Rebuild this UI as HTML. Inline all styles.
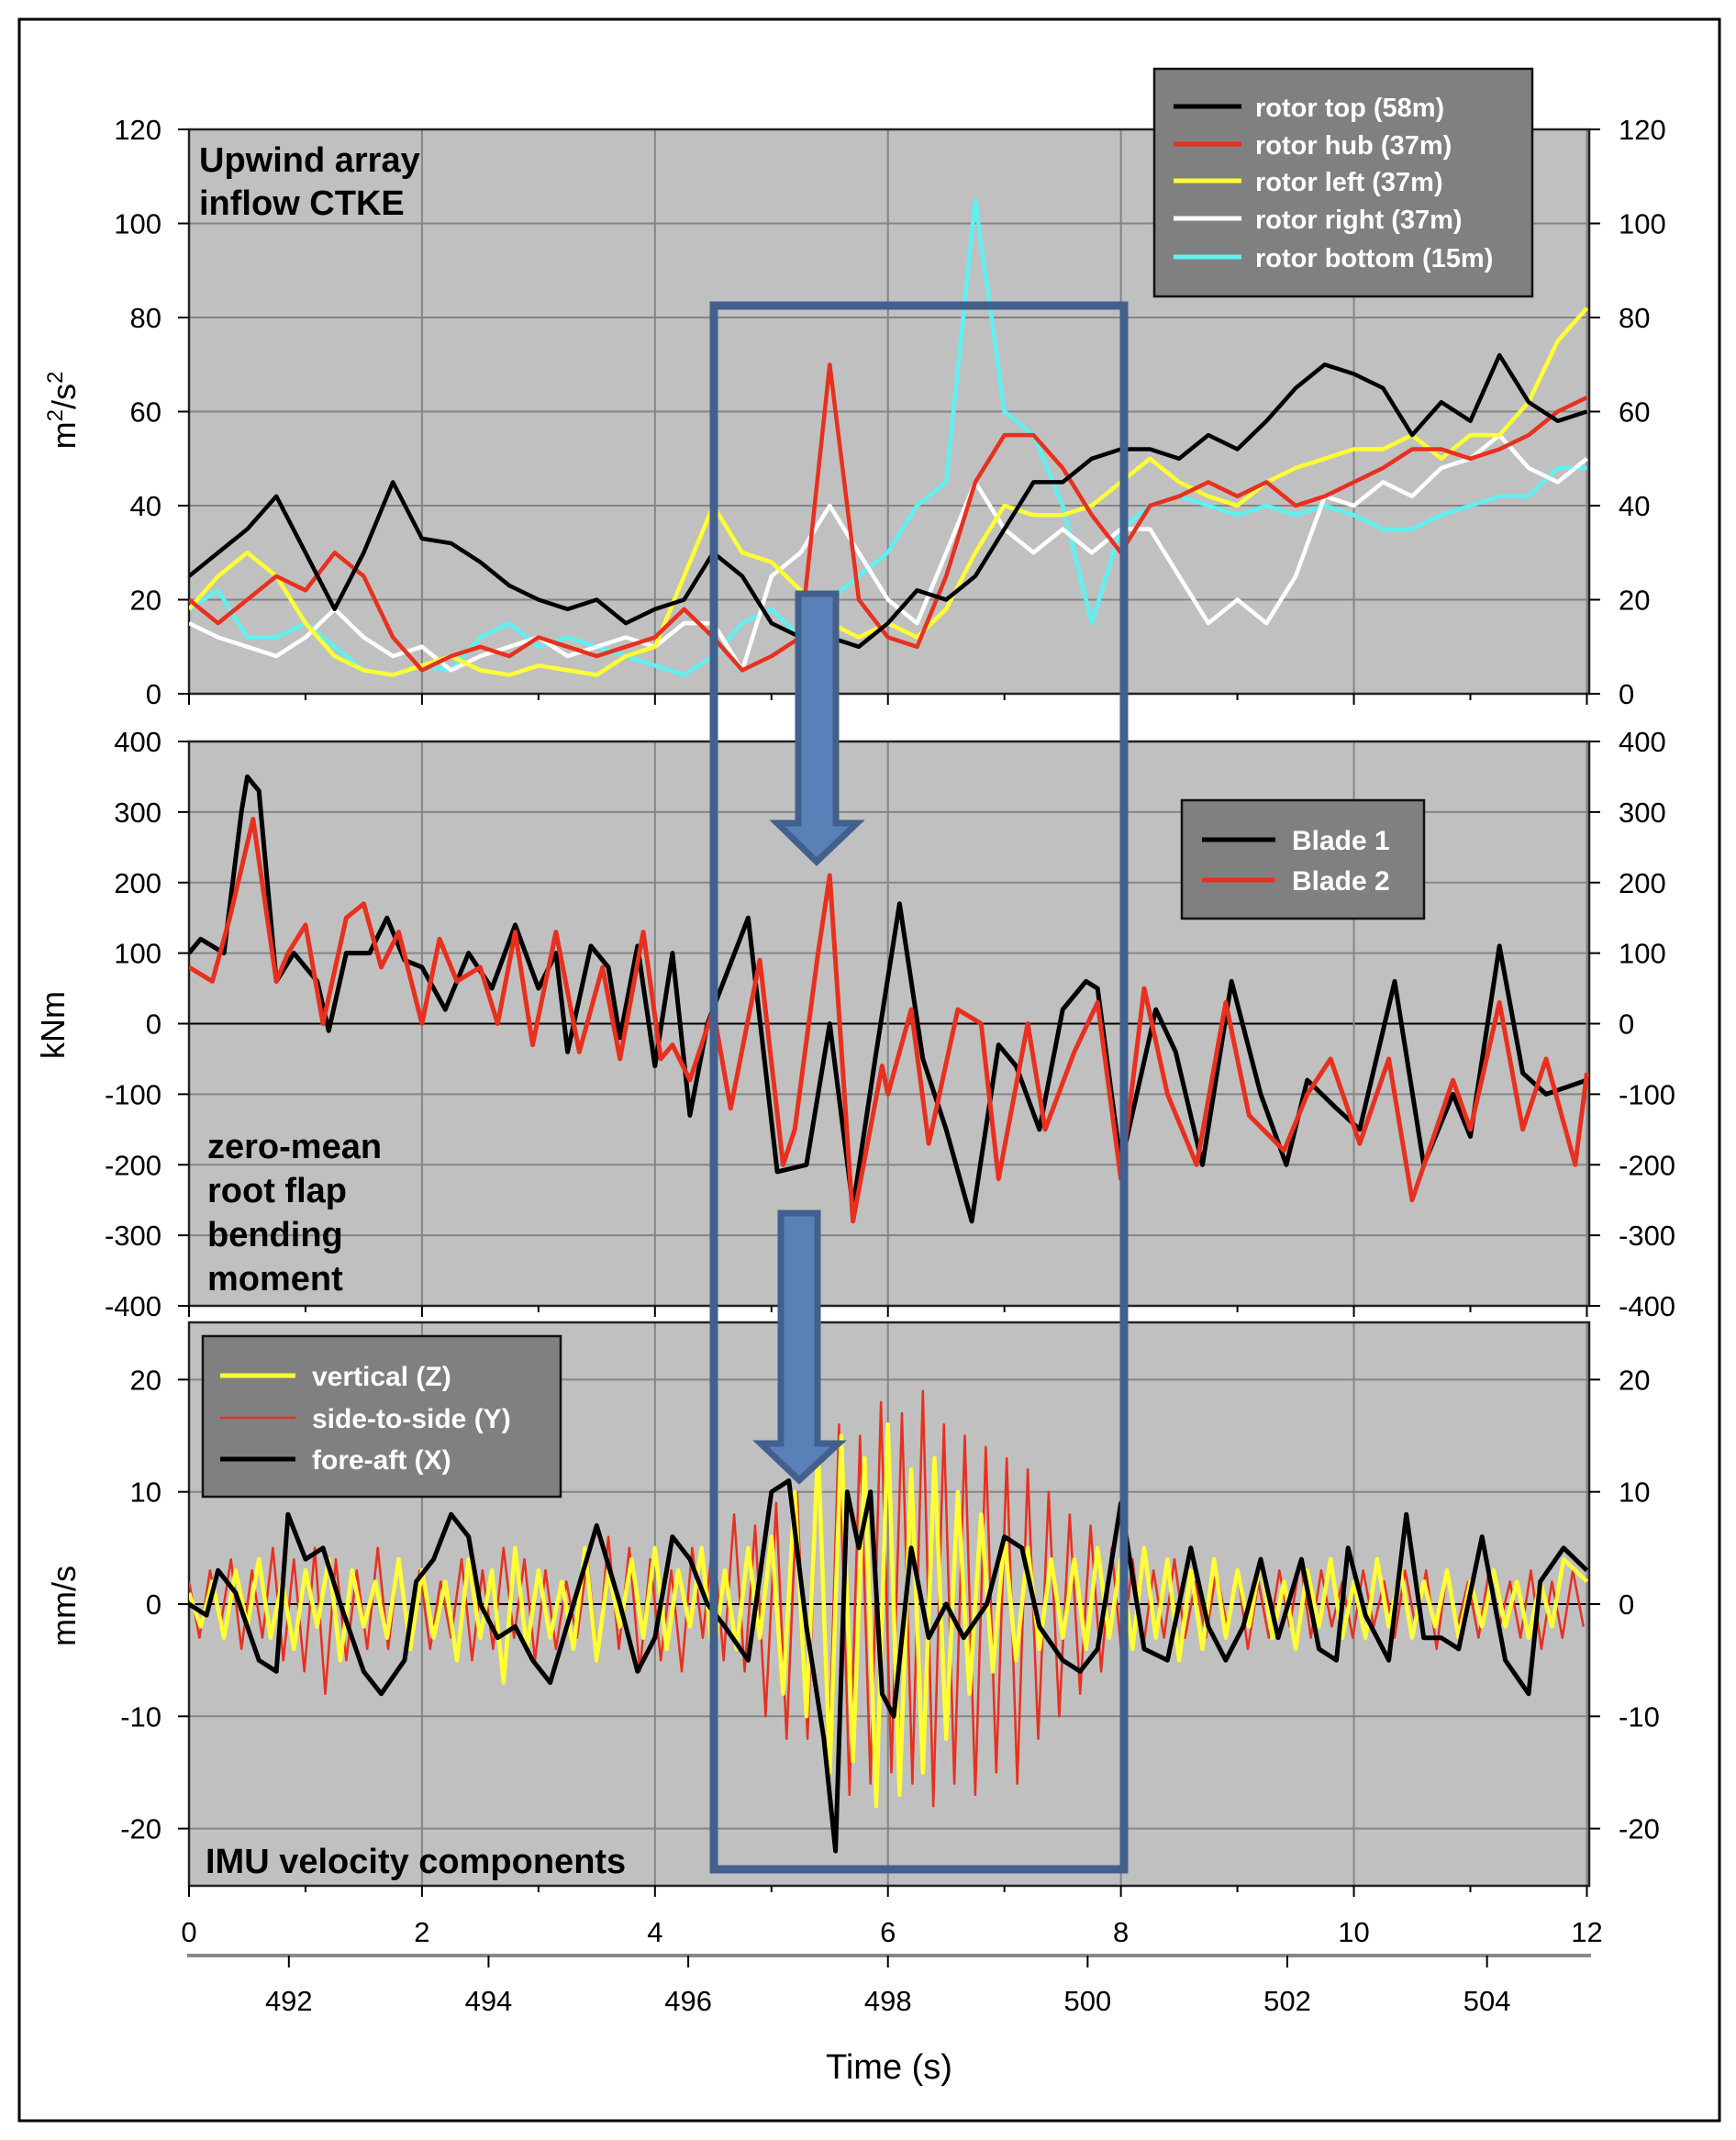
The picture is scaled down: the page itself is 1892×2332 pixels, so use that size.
<!DOCTYPE html>
<html><head><meta charset="utf-8">
<style>
html,body{margin:0;padding:0;background:#fff;}
svg{display:block;}
text{font-family:"Liberation Sans Narrow","Liberation Sans",sans-serif;}
</style></head>
<body>
<svg id="chart" width="1892" height="2332" viewBox="0 0 1892 2332" xmlns="http://www.w3.org/2000/svg">
<rect x="21" y="21" width="1853" height="2290" fill="#fff" stroke="#000" stroke-width="3"/>
<g id="layer"></g>
</svg>
<script>
// ---------- DATA ----------
const ctkeTime = [0,0.25,0.5,0.75,1,1.25,1.5,1.75,2,2.25,2.5,2.75,3,3.25,3.5,3.75,4,4.25,4.5,4.75,5,5.25,5.5,5.75,6,6.25,6.5,6.75,7,7.25,7.5,7.75,8,8.25,8.5,8.75,9,9.25,9.5,9.75,10,10.25,10.5,10.75,11,11.25,11.5,11.75,12];
const rotorTop   = [25,30,35,42,30,18,30,45,33,32,28,23,20,18,20,15,18,20,30,25,15,12,12,10,15,22,20,25,35,45,45,50,52,52,50,55,52,58,65,70,68,65,55,62,58,72,62,58,60];
const rotorHub   = [20,15,20,25,22,30,25,12,5,8,10,8,12,10,8,10,12,18,12,5,8,12,70,20,12,10,25,45,55,55,48,38,30,40,42,45,42,45,40,42,45,48,52,52,50,52,55,60,63];
const rotorLeft  = [18,25,30,25,15,8,5,4,6,8,5,4,6,5,4,8,10,25,40,30,28,22,15,12,15,12,18,30,40,38,38,40,45,50,45,42,40,45,48,50,52,52,55,50,55,55,62,75,82];
const rotorRight = [15,12,10,8,12,18,12,8,10,5,8,10,12,8,10,12,10,15,15,5,25,30,40,30,20,15,30,45,35,30,35,30,35,35,25,15,20,15,25,42,40,45,42,48,50,55,48,45,50];
const rotorBottom= [18,22,12,12,15,10,5,4,6,5,12,15,10,12,10,8,6,4,8,15,18,12,20,25,30,40,45,105,60,55,40,15,35,40,42,40,38,40,38,40,38,35,35,38,40,42,42,48,48];
const ctkeTicks = [0,20,40,60,80,100,120];

const blade1Time = [0,0.1,0.3,0.45,0.5,0.6,0.75,0.9,1.1,1.2,1.35,1.55,1.7,1.85,2.0,2.2,2.4,2.6,2.8,3.0,3.15,3.25,3.45,3.6,3.7,3.85,4.0,4.15,4.3,4.45,4.8,5.05,5.3,5.5,5.7,5.9,6.1,6.3,6.5,6.72,6.95,7.1,7.3,7.5,7.7,7.8,8.0,8.3,8.47,8.7,8.95,9.2,9.42,9.6,9.85,10.05,10.35,10.6,10.85,11.0,11.25,11.45,11.65,12];
const blade1 =     [100,120,100,300,350,330,60,100,60,-10,100,100,150,90,80,20,100,50,140,50,100,-40,110,80,-20,110,-60,100,-130,0,150,-210,-200,0,-260,-40,170,-50,-150,-280,-30,-60,-150,20,60,50,-200,20,-40,-200,60,-100,-200,-80,-120,-150,60,-200,-100,-160,110,-70,-100,-80];
const blade2Time = [0,0.2,0.35,0.55,0.75,0.85,1.0,1.15,1.35,1.5,1.65,1.8,2.0,2.15,2.3,2.5,2.65,2.8,2.95,3.15,3.35,3.55,3.7,3.9,4.05,4.15,4.3,4.5,4.65,4.9,5.1,5.2,5.4,5.5,5.7,5.95,6.0,6.2,6.35,6.6,6.8,6.95,7.2,7.35,7.6,7.8,8.0,8.2,8.4,8.65,8.9,9.1,9.4,9.6,9.8,10.05,10.3,10.5,10.85,11.0,11.25,11.45,11.65,11.9,12];
const blade2 =     [80,60,150,290,60,100,140,0,150,170,80,130,0,120,60,80,0,130,-30,130,-40,80,-50,130,-50,-30,-80,20,-120,90,-200,-150,100,210,-280,-60,-100,20,-170,20,0,-220,0,-150,-40,30,-220,50,-100,-200,30,-130,-180,-100,-50,-170,-50,-250,-80,-150,30,-150,-50,-200,-70];
const momentTicks = [-400,-300,-200,-100,0,100,200,300,400];

const sideStep = 0.09;
const sideToSide = [2,-3,3,-2,4,-4,3,-3,5,-5,4,-6,5,-8,4,-5,3,-4,5,-4,4,-3,3,-4,2,-3,4,-5,3,-4,5,-3,4,-5,3,-4,2,-3,4,-5,6,-4,5,-6,4,-5,3,-6,5,-3,
 6,-5,8,-6,7,-10,9,-12,10,-12,14,
 -15,16,-17,15,-16,18,-15,17,-16,19,-18,16,-16,15,-17,14,-15,
 13,-16,12,-12,10,-10,8,-8,7,-6,5,
 -5,4,-4,3,-3,4,-3,2,-3,3,-2,3,-4,2,-3,3,-2,4,-3,3,-2,2,-3,3,-2,2,-3,3,-2,3,-4,3,-2,2,-3,3,-2,2,-3,3,-4,2,-3,3,-2];
const vertStep = 0.1;
const vertical = [1,-2,2,-3,3,-2,4,-3,2,-4,3,-2,4,-5,3,-2,2,-3,4,-4,3,-3,2,-5,4,-3,3,-7,5,-4,3,-3,2,-4,5,-5,3,-2,4,-3,5,-4,3,-2,5,
 -5,3,-4,5,-3,6,-8,10,-10,14,
 -15,15,-14,13,-18,16,-17,12,-15,13,-12,10,-8,8,-6,6,
 -5,5,-4,4,-3,4,-4,5,-3,4,
 -4,5,-3,4,-5,3,-4,4,-3,3,-2,4,-3,2,-4,3,-2,4,-3,2,-3,4,-2,3,-3,2,-2,3,-3,2,-2,3,-2,2,-3,2,-2,4,3,2];
const foreAftTime = [0,0.15,0.25,0.4,0.6,0.75,0.85,1.0,1.15,1.3,1.5,1.65,1.85,1.95,2.1,2.25,2.4,2.5,2.65,2.8,2.95,3.1,3.3,3.5,3.7,3.85,4.0,4.15,4.3,4.45,4.6,4.8,5.0,5.15,5.3,5.45,5.55,5.65,5.75,5.85,5.95,6.05,6.2,6.35,6.5,6.65,6.85,7.0,7.15,7.3,7.5,7.65,7.8,8.0,8.2,8.4,8.6,8.75,8.9,9.05,9.2,9.35,9.55,9.7,9.85,9.95,10.1,10.3,10.45,10.6,10.75,10.9,11.1,11.3,11.5,11.6,11.8,12];
const foreAft =     [0,-1,3,1,-5,-6,8,4,5,0,-6,-8,-5,2,4,8,6,0,-3,-2,-5,-7,0,7,0,-6,-3,6,4,0,-2,-5,10,11,-2,-12,-22,10,5,10,-8,-10,5,-3,0,-3,0,6,5,-2,-5,-6,-4,9,-4,-5,5,-2,-5,-2,4,-3,4,-4,-5,5,-1,-5,8,-3,-3,-4,6,-5,-8,2,5,3];
const imuTicks = [-20,-10,0,10,20];

const timeTicks = [0,2,4,6,8,10,12];
const absTicks = [492,494,496,498,500,502,504];

// ---------- GEOMETRY ----------
const X0=206, X1=1732, TMAX=12.02;
const X = t => X0 + t/TMAX*(X1-X0);
const XA = s => X(0) + (s-491)/14*(X(12)-X(0));
const panels = {
  ctke:{top:141,bot:756,min:0,max:120},
  moment:{top:808,bot:1423,min:-400,max:400},
  imu:{top:1441,bot:2055,min:-25.1,max:25.1}
};
const Y = (p,v) => p.bot - (v-p.min)/(p.max-p.min)*(p.bot-p.top);
const NS='http://www.w3.org/2000/svg';
const layer=document.getElementById('layer');
function mk(tag,attrs,parent){const e=document.createElementNS(NS,tag);for(const k in attrs)e.setAttribute(k,attrs[k]);(parent||layer).appendChild(e);return e;}

function panel(p,ticks,name,gridTicks){
  const g=mk('g',{});
  
  
  const bg=mk('rect',{x:X0,y:p.top,width:X1-X0,height:p.bot-p.top,fill:'#c0c0c0'},g);
  
  
  (gridTicks||ticks).forEach(v=>{const y=Y(p,v);
    const l=mk('line',{x1:X0,x2:X1,y1:y,y2:y,stroke:(v===0&&name!=='ctke')?'#000':'#858585','stroke-width':2},g);
    
    });
  timeTicks.forEach(t=>{const x=X(t);
    const l=mk('line',{x1:x,x2:x,y1:p.top,y2:p.bot,stroke:'#858585','stroke-width':2},g);
    
    });
  mk('rect',{x:X0,y:p.top,width:X1-X0,height:p.bot-p.top,fill:'none',stroke:'#222','stroke-width':2.5},g);
  ticks.forEach(v=>{const y=Y(p,v);
    mk('line',{x1:X0-12,x2:X0,y1:y,y2:y,stroke:'#000','stroke-width':2},g);
    mk('line',{x1:X1,x2:X1+12,y1:y,y2:y,stroke:'#000','stroke-width':2},g);
    const tl=mk('text',{x:X0-30,y:y+11,'font-size':31,'text-anchor':'end',fill:'#000'},g);tl.textContent=v;
    
    
    const tr=mk('text',{x:X1+32,y:y+11,'font-size':31,'text-anchor':'start',fill:'#000'},g);tr.textContent=v;
    
    });
  for(let t=0;t<=12;t++){const x=X(t);
    mk('line',{x1:x,x2:x,y1:p.bot,y2:p.bot+(t%2?7:12),stroke:'#000','stroke-width':2},g);}
}
function series(p,ts,vs,color,w,name){
  const pts=vs.map((v,i)=>X(ts[i]).toFixed(1)+','+Y(p,v).toFixed(1)).join(' ');
  const l=mk('polyline',{points:pts,fill:'none',stroke:color,'stroke-width':w,'stroke-linejoin':'round'});
  
  
  return l;
}
const stepTimes=(arr,dt)=>arr.map((_,i)=>i*dt);

panel(panels.ctke,ctkeTicks,'ctke');
panel(panels.moment,momentTicks,'moment');
panel(panels.imu,imuTicks,'imu',[-20,-10,0,10,20]);

['ctke','moment','imu'].forEach(n=>{const p=panels[n];
  const cp=mk('clipPath',{id:'clip-'+n});mk('rect',{x:X0,y:p.top,width:X1-X0,height:p.bot-p.top},cp);});
function clipped(n,el){el.setAttribute('clip-path','url(#clip-'+n+')');}

clipped('ctke',series(panels.ctke,ctkeTime,rotorBottom,'#5ef1f1',4.5,'series-rotor-bottom'));
clipped('ctke',series(panels.ctke,ctkeTime,rotorRight,'#ffffff',4.5,'series-rotor-right'));
clipped('ctke',series(panels.ctke,ctkeTime,rotorLeft,'#ffff33',4.5,'series-rotor-left'));
clipped('ctke',series(panels.ctke,ctkeTime,rotorHub,'#e8301e',4.5,'series-rotor-hub'));
clipped('ctke',series(panels.ctke,ctkeTime,rotorTop,'#000000',4.5,'series-rotor-top'));

clipped('moment',series(panels.moment,blade1Time,blade1,'#000',5,'series-blade-1'));
clipped('moment',series(panels.moment,blade2Time,blade2,'#e8301e',5,'series-blade-2'));

clipped('imu',series(panels.imu,stepTimes(sideToSide,sideStep),sideToSide,'#e8301e',2.5,'series-side-to-side'));
clipped('imu',series(panels.imu,stepTimes(vertical,vertStep),vertical,'#ffff33',4.5,'series-vertical'));
clipped('imu',series(panels.imu,foreAftTime,foreAft,'#000',5,'series-fore-aft'));

timeTicks.forEach(t=>{const tx=mk('text',{x:X(t),y:2116,'font-size':31,'text-anchor':'middle'});tx.textContent=t;
  
  });
const ax2=mk('line',{x1:X0-2,x2:X1+2,y1:2131,y2:2131,stroke:'#888','stroke-width':4});


absTicks.forEach(s=>{const x=XA(s);
  mk('line',{x1:x,x2:x,y1:2131,y2:2144,stroke:'#000','stroke-width':2});
  const tx=mk('text',{x:x,y:2191,'font-size':31,'text-anchor':'middle'});tx.textContent=s;
  
  });
</script>
<script>
const L=document.getElementById('chart');
function add(html){L.insertAdjacentHTML('beforeend',html);}
add(`
<text x="969" y="2265" font-size="38" text-anchor="middle" style="font-family:'Liberation Sans',sans-serif">Time (s)</text>
<text transform="translate(82,447) rotate(-90)" font-size="36" text-anchor="middle" style="font-family:'Liberation Sans',sans-serif">m<tspan dy="-14" font-size="24">2</tspan><tspan dy="14">/s</tspan><tspan dy="-14" font-size="24">2</tspan></text>
<text transform="translate(70,1117) rotate(-90)" font-size="36" text-anchor="middle" style="font-family:'Liberation Sans',sans-serif">kNm</text>
<text transform="translate(82,1750) rotate(-90)" font-size="36" text-anchor="middle" style="font-family:'Liberation Sans',sans-serif">mm/s</text>
<g font-weight="bold" font-size="38" style="font-family:'Liberation Sans',sans-serif">
<text x="217" y="187">Upwind array</text>
<text x="217" y="234">inflow CTKE</text>
<text x="226" y="1262">zero-mean</text>
<text x="226" y="1310">root flap</text>
<text x="226" y="1358">bending</text>
<text x="226" y="1406">moment</text>
<text x="224" y="2041">IMU velocity components</text>
</g>
<g font-weight="bold" font-size="29" fill="#fff" style="font-family:'Liberation Sans',sans-serif">
<rect x="1258" y="75" width="412" height="248" fill="#808080" stroke="#111" stroke-width="2.5"/>
<line x1="1279" x2="1353" y1="116" y2="116" stroke="#000" stroke-width="5"/><text x="1368" y="127">rotor top (58m)</text>
<line x1="1279" x2="1353" y1="157" y2="157" stroke="#e8301e" stroke-width="5"/><text x="1368" y="168">rotor hub (37m)</text>
<line x1="1279" x2="1353" y1="197" y2="197" stroke="#ffff33" stroke-width="5"/><text x="1368" y="208">rotor left (37m)</text>
<line x1="1279" x2="1353" y1="238" y2="238" stroke="#fff" stroke-width="5"/><text x="1368" y="249">rotor right (37m)</text>
<line x1="1279" x2="1353" y1="280" y2="280" stroke="#5ef1f1" stroke-width="5"/><text x="1368" y="291">rotor bottom (15m)</text>
</g>
<g font-weight="bold" font-size="30" fill="#fff" style="font-family:'Liberation Sans',sans-serif">
<rect x="1288" y="872" width="264" height="129" fill="#808080" stroke="#111" stroke-width="2.5"/>
<line x1="1310" x2="1390" y1="915" y2="915" stroke="#000" stroke-width="5"/><text x="1408" y="926">Blade 1</text>
<line x1="1310" x2="1390" y1="959" y2="959" stroke="#e8301e" stroke-width="5"/><text x="1408" y="970">Blade 2</text>
</g>
<g font-weight="bold" font-size="30" fill="#fff" style="font-family:'Liberation Sans',sans-serif">
<rect x="221" y="1456" width="390" height="175" fill="#808080" stroke="#111" stroke-width="2.5"/>
<line x1="240" x2="322" y1="1499" y2="1499" stroke="#ffff33" stroke-width="5"/><text x="340" y="1510">vertical (Z)</text>
<line x1="240" x2="322" y1="1545" y2="1545" stroke="#e8301e" stroke-width="2.5"/><text x="340" y="1556">side-to-side (Y)</text>
<line x1="240" x2="322" y1="1590" y2="1590" stroke="#000" stroke-width="5"/><text x="340" y="1601">fore-aft (X)</text>
</g>
<rect x="778" y="333" width="447" height="1704" fill="none" stroke="#41608e" stroke-width="9"/>
<polygon points="870,647 911,647 911,897 934,897 890,939 847,897 870,897" fill="#5a80b8" stroke="#41608e" stroke-width="7" stroke-linejoin="miter"/>
<polygon points="851,1322 891,1322 891,1573 914,1573 871,1613 829,1573 851,1573" fill="#5a80b8" stroke="#41608e" stroke-width="7" stroke-linejoin="miter"/>
`);
</script>
</body></html>
